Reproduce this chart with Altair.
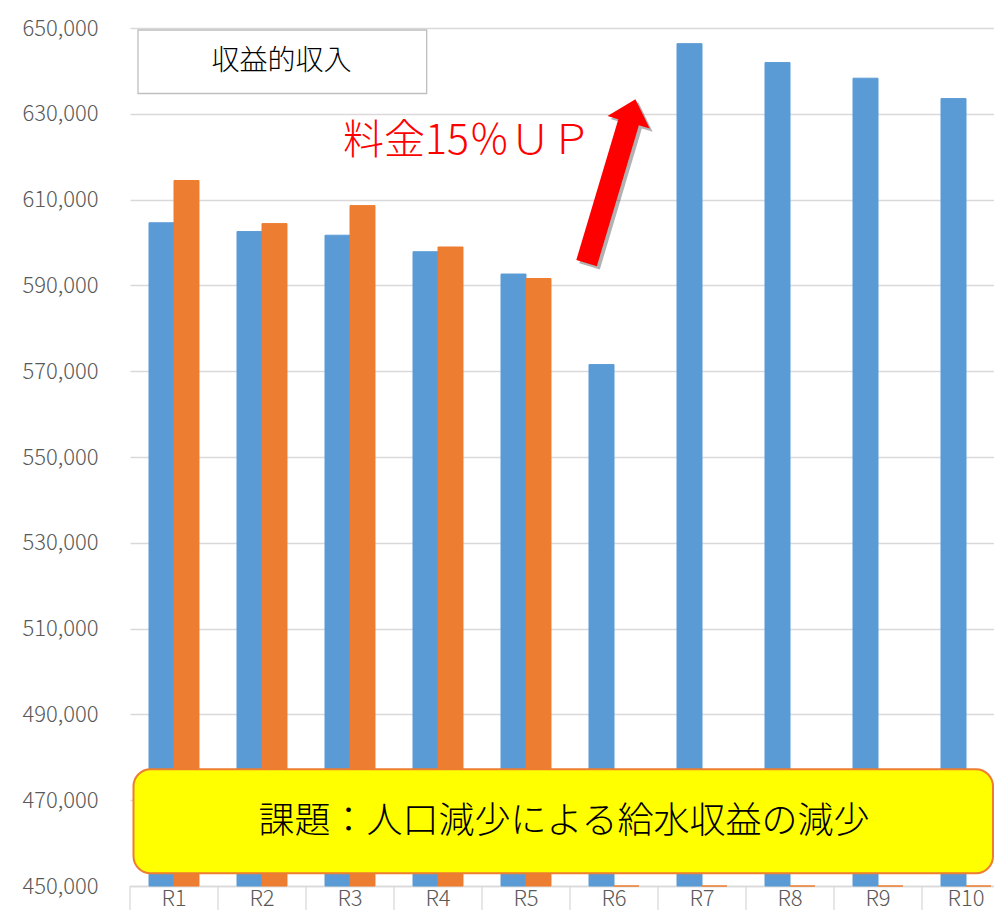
import altair as alt
import pandas as pd

# ---- data ----
categories = ["R1", "R2", "R3", "R4", "R5", "R6", "R7", "R8", "R9", "R10"]
plan_values = [604600, 602550, 601700, 597850, 592650, 571550, 646350, 641950, 638300, 633550]
actual_values = [614450, 604400, 608600, 598950, 591600, 0, 0, 0, 0, 0]
series_names = ["計画", "実績"]
series_colors = ["#5B9BD5", "#ED7D31"]
y_ticks = list(range(450000, 650001, 20000))

title_box_text = "収益的収入"
arrow_text = "料金15％ＵＰ"
issue_text = "課題：人口減少による給水収益の減少"

rows = []
for c, p, a in zip(categories, plan_values, actual_values):
    rows.append({"年度": c, "系列": series_names[0], "金額": p})
    rows.append({"年度": c, "系列": series_names[1], "金額": a})
df = pd.DataFrame(rows)

W, H = 880, 858
FONT = "Noto Sans CJK JP"
WEIGHT = 300
GRID = "#D9D9D9"
LABEL = "#595959"

bars = alt.Chart(df).mark_bar(strokeWidth=1).encode(
    x=alt.X(
        "年度:N", sort=categories,
        scale=alt.Scale(paddingInner=0.432, paddingOuter=0.216),
        axis=alt.Axis(title=None, labelAngle=0, labelFontSize=22, labelColor=LABEL,
                      labelFont=FONT, labelFontWeight=WEIGHT, labelPadding=2, ticks=False,
                      domainColor=GRID, domainWidth=1.3),
    ),
    xOffset=alt.XOffset("系列:N", sort=series_names,
                        scale=alt.Scale(paddingInner=0, paddingOuter=0)),
    y=alt.Y(
        "金額:Q",
        scale=alt.Scale(domain=[450000, 650000], zero=False, clamp=True, nice=False),
        axis=alt.Axis(title=None, values=y_ticks, format=",.0f", labelFontSize=22,
                      labelColor=LABEL, labelFont=FONT, labelFontWeight=WEIGHT,
                      labelPadding=32, ticks=False,
                      domain=False, gridColor=GRID, gridWidth=1.3),
    ),
    color=alt.Color("系列:N", scale=alt.Scale(domain=series_names, range=series_colors), legend=None),
    stroke=alt.Stroke("系列:N", scale=alt.Scale(domain=series_names, range=series_colors), legend=None),
)

sep_df = pd.DataFrame({"年度": categories})
seps = alt.Chart(sep_df).mark_rule(color=GRID, strokeWidth=1.3).encode(
    x=alt.X("年度:N", sort=categories, bandPosition=0,
            scale=alt.Scale(paddingInner=0, paddingOuter=0), axis=None),
    y=alt.value(H),
    y2=alt.value(H + 30),
)

title_df = pd.DataFrame({"t": [title_box_text]})
title_rect = alt.Chart(title_df).mark_rect(fill="white", stroke="#BFBFBF", strokeWidth=1.3).encode(
    x=alt.value(8), x2=alt.value(296.7), y=alt.value(2), y2=alt.value(65.5)
)
title_text = alt.Chart(title_df).mark_text(
    font=FONT, fontSize=28, fontWeight=WEIGHT, color="#000000", align="center", baseline="middle"
).encode(text="t:N", x=alt.value(151.5), y=alt.value(33.7))

red_df = pd.DataFrame({"t": [arrow_text]})
red_text = alt.Chart(red_df).mark_text(
    font=FONT, fontSize=41, fontWeight=WEIGHT, color="#FF0000", align="left", baseline="middle"
).encode(text="t:N", x=alt.value(213), y=alt.value(114.3))

arrow_path = ("M 0 -0.972 L 0.25 -0.70 L 0.122 -0.70 L 0.122 0.972 "
              "L -0.122 0.972 L -0.122 -0.70 L -0.25 -0.70 Z")
arrow_df = pd.DataFrame({"t": ["arrow"]})
arrow_shadow = alt.Chart(arrow_df).mark_point(
    shape=arrow_path, size=30940, angle=16.6, filled=True, color="#000000",
    opacity=0.3, strokeWidth=0
).encode(x=alt.value(484), y=alt.value(156.4))
arrow = alt.Chart(arrow_df).mark_point(
    shape=arrow_path, size=30940, angle=16.6, filled=True, color="#FF0000",
    opacity=1, strokeWidth=0
).encode(x=alt.value(481), y=alt.value(153.2))

issue_df = pd.DataFrame({"t": [issue_text]})
issue_rect = alt.Chart(issue_df).mark_rect(
    fill="#FFFF00", stroke="#ED7D31", strokeWidth=2, cornerRadius=17
).encode(x=alt.value(3.5), x2=alt.value(863), y=alt.value(741.2), y2=alt.value(845.3))
issue_label = alt.Chart(issue_df).mark_text(
    font=FONT, fontSize=36, fontWeight=WEIGHT, color="#000000", align="center", baseline="middle"
).encode(text="t:N", x=alt.value(434), y=alt.value(793.5))

chart = alt.layer(
    bars, seps, title_rect, title_text, red_text, arrow_shadow, arrow, issue_rect, issue_label
).resolve_scale(x="independent").properties(
    width=W, height=H,
    autosize=alt.AutoSizeParams(type="none"),
    padding={"left": 122, "top": 20, "right": -16, "bottom": 24},
    background="white",
).configure_view(stroke=None)

chart.save("out.html", embed_options={"renderer": "svg", "actions": False})
